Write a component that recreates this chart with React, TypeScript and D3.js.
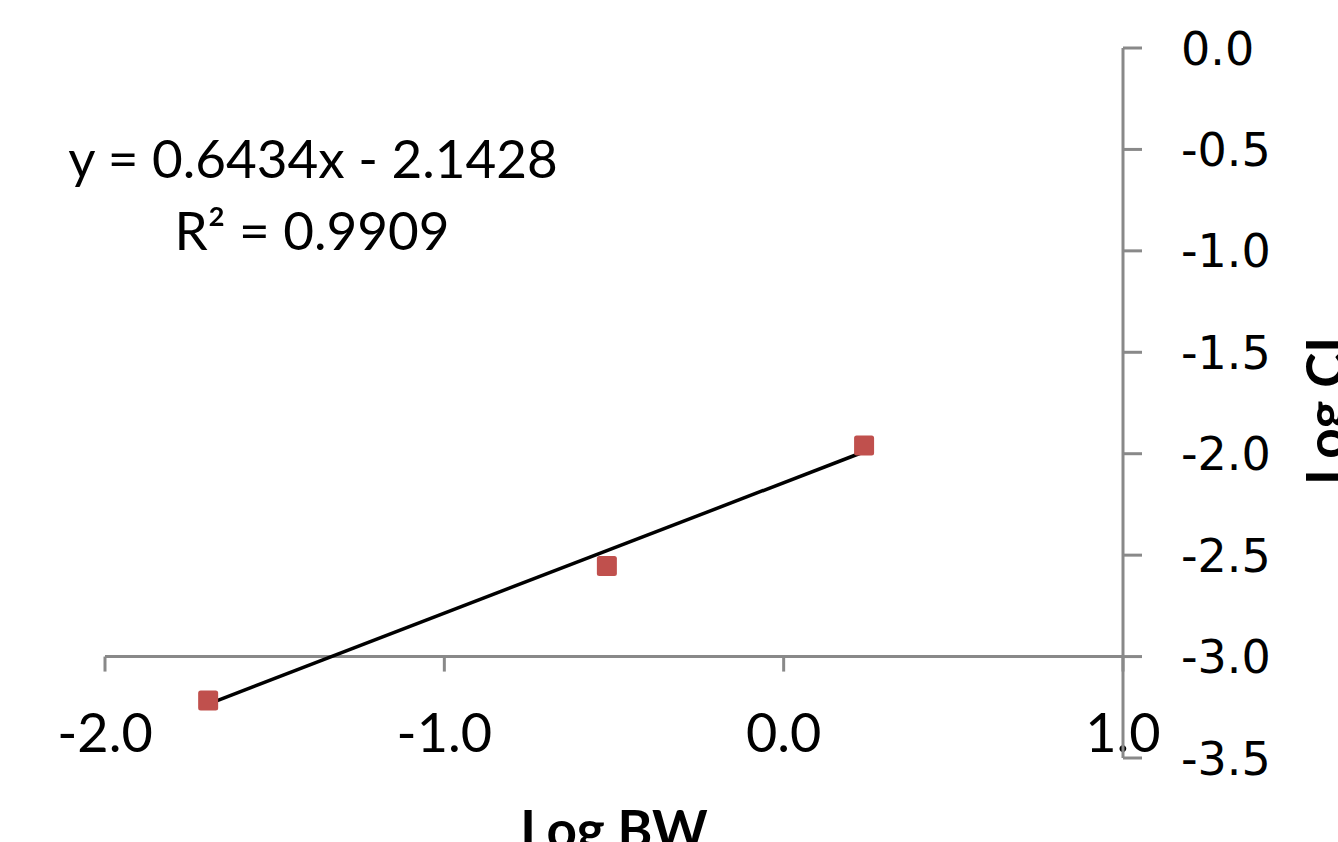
import React from "react";
import * as d3 from "d3";

const xValues = [-1.696, -0.521, 0.237];
const yValues = [-3.217, -2.553, -1.96];
const xTicks = [-2, -1, 0, 1];
const yTicks = [0, -0.5, -1, -1.5, -2, -2.5, -3, -3.5];
const slope = 0.6434;
const intercept = -2.1428;
const equationText = "y = 0.6434x - 2.1428";
const r2Value = "0.9909";
const xTitle = "Log BW";
const yTitle = "Log CI";

const W = 1338;
const H = 842;

export default function App() {
  const x = d3.scaleLinear().domain([-2, 1]).range([105, 1123]);
  const y = d3.scaleLinear().domain([-3.5, 0]).range([758, 48]);
  const axisColor = "#898989";
  const calibri = "Lato, 'Open Sans', sans-serif";
  const verdana = "'DejaVu Sans', Verdana, sans-serif";

  const xExt = d3.extent(xValues) as [number, number];
  const trend = d3
    .line<number>()
    .x((d) => x(d))
    .y((d) => y(slope * d + intercept));

  const xAxisY = y(-3);
  const yAxisX = x(1);

  return (
    <svg
      width={W}
      height={H}
      style={{ position: "absolute", left: 0, top: 0, background: "#fff" }}
    >
      {/* X axis */}
      <line x1={x(-2)} x2={x(1)} y1={xAxisY} y2={xAxisY} stroke={axisColor} strokeWidth={3} />
      {xTicks.map((t) => (
        <g key={"xt" + t}>
          <line x1={x(t)} x2={x(t)} y1={xAxisY} y2={xAxisY + 15} stroke={axisColor} strokeWidth={3} />
          <text
            x={x(t)}
            y={752}
            textAnchor="middle"
            fontFamily={calibri}
            fontSize={54}
            fill="#000"
          >
            {t.toFixed(1)}
          </text>
        </g>
      ))}
      {/* Y axis */}
      <line x1={yAxisX} x2={yAxisX} y1={y(0)} y2={y(-3.5)} stroke={axisColor} strokeWidth={3} />
      {yTicks.map((t) => (
        <g key={"yt" + t}>
          <line x1={yAxisX} x2={yAxisX + 19} y1={y(t)} y2={y(t)} stroke={axisColor} strokeWidth={3} />
          <text
            x={1181}
            y={y(t)}
            dy="0.36em"
            textAnchor="start"
            fontFamily={verdana}
            fontSize={46}
            fill="#000"
          >
            {t === 0 ? "0.0" : t.toFixed(1)}
          </text>
        </g>
      ))}
      {/* Trendline */}
      <path d={trend(xExt) || ""} stroke="#000" strokeWidth={3.5} fill="none" />
      {/* Markers */}
      {xValues.map((v, i) => (
        <rect
          key={"m" + i}
          x={x(v) - 10}
          y={y(yValues[i]) - 10}
          width={20}
          height={20}
          rx={2.5}
          fill="#C0504D"
        />
      ))}
      {/* Equation */}
      <text x={313} y={178} textAnchor="middle" fontFamily={calibri} fontSize={53} fill="#000">
        {equationText}
      </text>
      <text x={312} y={250} textAnchor="middle" fontFamily={calibri} fontSize={53} fill="#000">
        R² = {r2Value}
      </text>
      {/* Titles */}
      <text
        x={(x(-2) + x(1)) / 2}
        y={849}
        textAnchor="middle"
        fontFamily={calibri}
        fontWeight="bold"
        fontSize={53}
        fill="#000"
      >
        {xTitle}
      </text>
      <text
        transform={`translate(1345, ${(y(0) + y(-3.5)) / 2 + 8}) rotate(-90)`}
        textAnchor="middle"
        fontFamily={calibri}
        fontWeight="bold"
        fontSize={53}
        fill="#000"
      >
        {yTitle}
      </text>
    </svg>
  );
}
